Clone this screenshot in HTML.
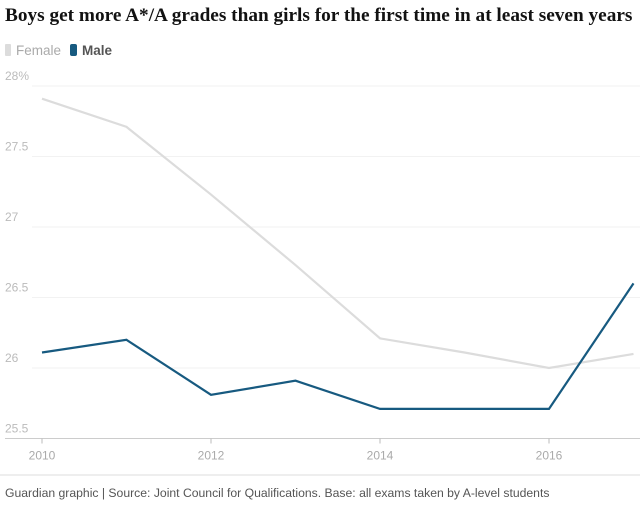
<!DOCTYPE html>
<html><head><meta charset="utf-8"><style>
body{margin:0;background:#fff;width:640px;height:504px;overflow:hidden;font-family:"Liberation Sans",sans-serif}
</style></head><body>
<svg width="640" height="504">
<text x="5" y="21" font-family="Liberation Serif" font-weight="bold" font-size="19.3" fill="#121212">Boys get more A*/A grades than girls for the first time in at least seven years</text>
<g>
<rect x="5" y="44" width="6" height="12" rx="1" fill="#dcdcdc"/>
<text x="16" y="55" font-size="13.5" fill="#aaa">Female</text>
<rect x="70" y="44" width="7" height="12" rx="2" fill="#175a80"/>
<text x="82" y="55" font-size="13.5" font-weight="bold" fill="#555">Male</text>
</g>
<g id="grid"></g><g id="lines"></g>
<line x1="0" y1="475" x2="640" y2="475" stroke="#dcdcdc"/>
<text x="5" y="497" font-size="12.2" fill="#555">Guardian graphic | Source: Joint Council for Qualifications. Base: all exams taken by A-level students</text>
</svg>
<script>
const years=[2010,2011,2012,2013,2014,2015,2016,2017];
const female=[27.91,27.71,27.23,26.73,26.21,26.11,26.0,26.1];
const male=[26.11,26.2,25.81,25.91,25.71,25.71,25.71,26.6];
const yTicks=[25.5,26,26.5,27,27.5,28];
const yLabels=["25.5","26","26.5","27","27.5","28%"];
const xTicks=[2010,2012,2014,2016];
const NS="http://www.w3.org/2000/svg";
const xs=y=>42+(y-2010)*84.5;
const ys=v=>86+(28-v)*141;
function mk(t,a,p){const e=document.createElementNS(NS,t);for(const k in a)e.setAttribute(k,a[k]);p.appendChild(e);return e;}
const g=document.getElementById('grid');
yTicks.forEach((v,i)=>{
 const l=mk('line',{x1:i==0?5:32,x2:640,y1:ys(v),y2:ys(v),stroke:i==0?'#ccc':'#f2f2f2'},g);
 
 
 const t=mk('text',{x:5,y:ys(v)-6,'font-size':12,fill:'#bbb'},g);t.textContent=yLabels[i];
 
 
});
xTicks.forEach(y=>{
 const l=mk('line',{x1:xs(y),x2:xs(y),y1:ys(25.5),y2:ys(25.5)+5,stroke:'#bbb'},g);
 
 
 const t=mk('text',{x:xs(y),y:ys(25.5)+21,'font-size':12,fill:'#aaa','text-anchor':'middle'},g);t.textContent=y;
 
 
});
const L=document.getElementById('lines');
[[female,'#dcdcdc','female-line'],[male,'#175a80','male-line']].forEach(([d,c,n])=>{
 const p=mk('polyline',{points:d.map((v,i)=>xs(years[i])+','+ys(v)).join(' '),fill:'none',stroke:c,'stroke-width':2.2},L);
 
 
});
</script>
</body></html>
